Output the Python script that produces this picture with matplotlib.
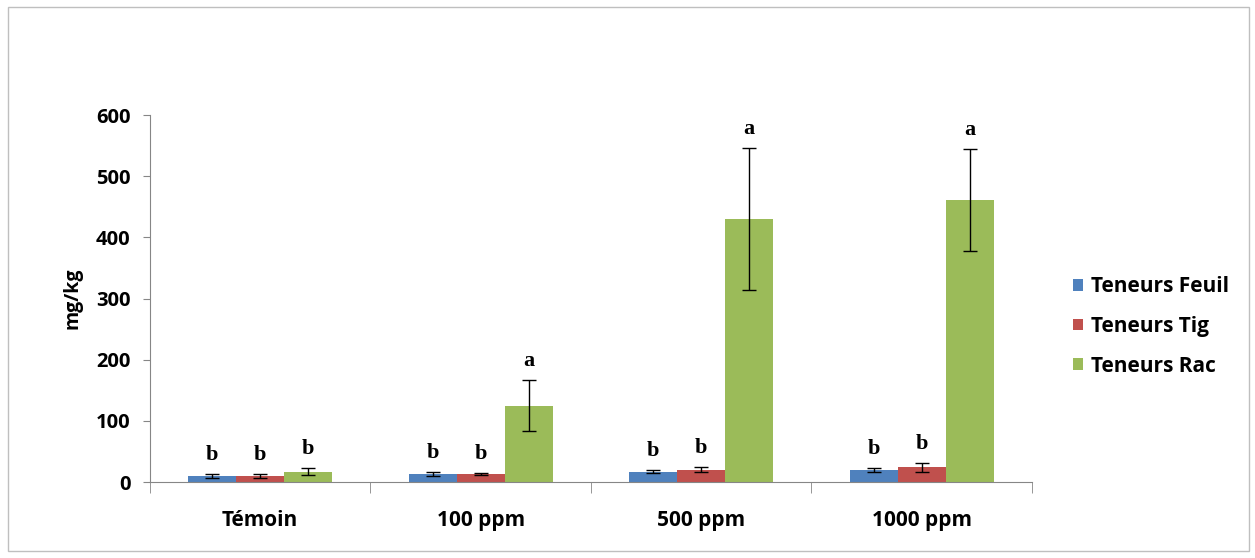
import numpy as np
import matplotlib.pyplot as plt
from matplotlib.patches import Rectangle

categories = ["Témoin", "100 ppm", "500 ppm", "1000 ppm"]
series = ["Teneurs Feuil", "Teneurs Tig", "Teneurs Rac"]
feuil = [10, 13, 17, 20]
tig = [10, 13, 20, 24]
rac = [17, 125, 430, 461]
feuil_err = [3, 4, 3, 3]
tig_err = [3, 2, 4, 7]
rac_err = [6, 42, 116, 84]
feuil_letters = ["b", "b", "b", "b"]
tig_letters = ["b", "b", "b", "b"]
rac_letters = ["b", "a", "a", "a"]

colors = ["#4F81BD", "#C0504D", "#9BBB59"]
grey = "#868686"
font = "Open Sans"

fig = plt.figure(figsize=(12.55, 5.58), dpi=100)
fig.patches.append(Rectangle((0.006, 0.012), 0.989, 0.975, transform=fig.transFigure,
                             fill=False, edgecolor="#BFBFBF", linewidth=1))
ax = fig.add_axes([0.1195, 0.1362, 0.7028, 0.6577])

x = np.arange(len(categories))
w = 0.218
values = [feuil, tig, rac]
errs = [feuil_err, tig_err, rac_err]
letters = [feuil_letters, tig_letters, rac_letters]

for i, (vals, err, col, name, lets) in enumerate(zip(values, errs, colors, series, letters)):
    pos = x + (i - 1) * w
    ax.bar(pos, vals, w, color=col, label=name, zorder=2)
    ax.errorbar(pos, vals, yerr=err, fmt="none", ecolor="black", elinewidth=1,
                capsize=5, capthick=1, zorder=3)
    for p, v, e, l in zip(pos, vals, err, lets):
        ax.text(p, v + e + 31, l, ha="center", va="center", fontsize=16,
                fontweight="bold", family="Liberation Serif")

ax.set_xlim(-0.5, len(categories) - 0.5)
ax.set_ylim(0, 600)
ax.set_yticks(range(0, 601, 100))
ax.set_xticks(x)
ax.set_xticklabels(categories, fontsize=15, fontweight="bold", family=font)
ax.tick_params(axis="x", length=0, pad=20)
ax.set_xticks(np.arange(-0.5, len(categories), 1), minor=True)
ax.tick_params(axis="x", which="minor", length=8, color=grey, direction="out")
ax.tick_params(axis="y", length=5, color=grey, labelsize=14.5, pad=9)
for lab in ax.get_yticklabels():
    lab.set_fontweight("bold")
    lab.set_family(font)

for s in ["top", "right"]:
    ax.spines[s].set_visible(False)
for s in ["left", "bottom"]:
    ax.spines[s].set_color(grey)

ax.set_ylabel("mg/kg", fontsize=14, fontweight="bold", family=font, labelpad=10)

fig.legend(loc="center left", bbox_to_anchor=(0.84, 0.415), frameon=False,
           prop={"family": font, "size": 15, "weight": "bold"}, handlelength=0.5,
           handleheight=0.5, handletextpad=0.35, labelspacing=0.9)

fig.savefig("out.png", dpi=100)
